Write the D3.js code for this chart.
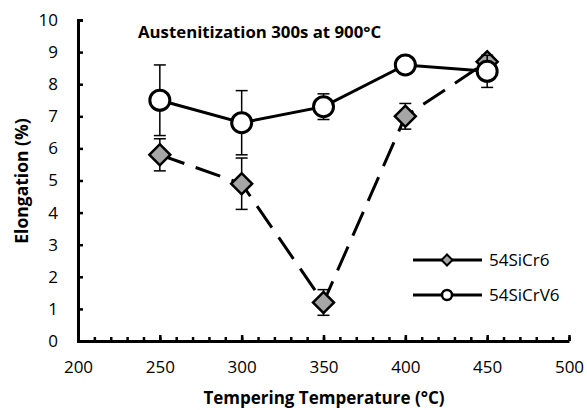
<!DOCTYPE html>
<html>
<head>
<meta charset="utf-8">
<script src="https://cdn.jsdelivr.net/npm/d3@7"></script>
<style>
  body { margin: 0; background: #fff; }
  text { font-family: "Open Sans", Lato, sans-serif; }
</style>
</head>
<body>
<script>
const temps = [250, 300, 350, 400, 450];
const cr6 = [5.8, 4.9, 1.2, 7.0, 8.7];
const cr6Err = [0.5, 0.8, 0.4, 0.4, 0.1];
const crv6 = [7.5, 6.8, 7.3, 8.6, 8.4];
const crv6Err = [1.1, 1.0, 0.4, 0.1, 0.5];
const seriesNames = ["54SiCr6", "54SiCrV6"];
const xTicks = [200, 250, 300, 350, 400, 450, 500];
const yTicks = [0, 1, 2, 3, 4, 5, 6, 7, 8, 9, 10];

const width = 587, height = 410;

const svg = d3.select("body").append("svg")
    .attr("width", width)
    .attr("height", height);

const x = d3.scaleLinear().domain([200, 500]).range([78, 569]);
const y = d3.scaleLinear().domain([0, 10]).range([341, 20]);

// axes, ticks inside
const xMinor = svg.append("g")
    .attr("transform", `translate(0,${y(0)})`)
    .call(d3.axisBottom(x).ticks(30).tickSize(-4).tickFormat(""));
xMinor.select(".domain").remove();
xMinor.selectAll("line").attr("stroke", "#000").attr("stroke-width", 2.5);

const xAxis = svg.append("g")
    .attr("transform", `translate(0,${y(0)})`)
    .call(d3.axisBottom(x).tickValues(xTicks).tickSize(-6).tickPadding(20).tickSizeOuter(0));
xAxis.select(".domain").attr("stroke-width", 3);
xAxis.selectAll("line").attr("stroke-width", 2.5);
xAxis.selectAll("text").style("font-size", "17px").attr("fill", "#000");

const yAxis = svg.append("g")
    .attr("transform", `translate(${x(200)},0)`)
    .call(d3.axisLeft(y).tickValues(yTicks).tickSize(-5).tickPadding(20).tickSizeOuter(-5));
yAxis.select(".domain").attr("stroke-width", 3);
yAxis.selectAll("line").attr("stroke-width", 2.5);
yAxis.selectAll("text").style("font-size", "17px").attr("fill", "#000");

// titles
svg.append("text")
    .attr("x", 138).attr("y", 38)
    .style("font-size", "16.8px").style("font-weight", "bold")
    .text("Austenitization 300s at 900°C");

svg.append("text")
    .attr("x", 324).attr("y", 404)
    .attr("text-anchor", "middle")
    .style("font-size", "17px").style("font-weight", "bold")
    .text("Tempering Temperature (°C)");

svg.append("text")
    .attr("transform", "translate(28,181) rotate(-90)")
    .attr("text-anchor", "middle")
    .style("font-size", "17.5px").style("font-weight", "bold")
    .text("Elongation (%)");

const diamond = d3.symbol().type(d3.symbolSquare);

function drawSeries(vals, errs, dashed, kind) {
  const pts = temps.map((t, i) => ({t, v: vals[i], e: errs[i]}));
  const g = svg.append("g");
  g.append("path")
      .datum(pts)
      .attr("fill", "none")
      .attr("stroke", "#000")
      .attr("stroke-width", 3)
      .attr("stroke-dasharray", dashed ? "26,12" : null)
      .attr("d", d3.line().x(d => x(d.t)).y(d => y(d.v)));

  const eb = g.selectAll(".eb").data(pts).join("g");
  eb.append("line")
      .attr("x1", d => x(d.t)).attr("x2", d => x(d.t))
      .attr("y1", d => y(d.v - d.e)).attr("y2", d => y(d.v + d.e))
      .attr("stroke", "#000").attr("stroke-width", 1.5);
  [-1, 1].forEach(s => {
    eb.append("line")
        .attr("x1", d => x(d.t) - 6).attr("x2", d => x(d.t) + 6)
        .attr("y1", d => y(d.v + s * d.e)).attr("y2", d => y(d.v + s * d.e))
        .attr("stroke", "#000").attr("stroke-width", 1.5);
  });

  if (kind === "diamond") {
    g.selectAll(".m").data(pts).join("path")
        .attr("d", diamond.size(220))
        .attr("transform", d => `translate(${x(d.t)},${y(d.v)}) rotate(45)`)
        .attr("fill", "#a6a6a6").attr("stroke", "#000").attr("stroke-width", 2.5);
  } else {
    g.selectAll(".m").data(pts).join("circle")
        .attr("cx", d => x(d.t)).attr("cy", d => y(d.v)).attr("r", 10)
        .attr("fill", "#fff").attr("stroke", "#000").attr("stroke-width", 3);
  }
}

drawSeries(cr6, cr6Err, true, "diamond");
drawSeries(crv6, crv6Err, false, "circle");

// legend
const legendRows = [260, 295];
seriesNames.forEach((name, i) => {
  const ly = legendRows[i];
  svg.append("line")
      .attr("x1", 413).attr("x2", 482).attr("y1", ly).attr("y2", ly)
      .attr("stroke", "#000").attr("stroke-width", 3);
  if (i === 0) {
    svg.append("path")
        .attr("d", diamond.size(60))
        .attr("transform", `translate(447,${ly}) rotate(45)`)
        .attr("fill", "#a6a6a6").attr("stroke", "#000").attr("stroke-width", 2);
  } else {
    svg.append("circle")
        .attr("cx", 447).attr("cy", ly).attr("r", 5)
        .attr("fill", "#fff").attr("stroke", "#000").attr("stroke-width", 2.5);
  }
  svg.append("text")
      .attr("x", 489).attr("y", ly)
      .attr("dy", "0.35em")
      .style("font-size", "17px")
      .text(name);
});
</script>
</body>
</html>
